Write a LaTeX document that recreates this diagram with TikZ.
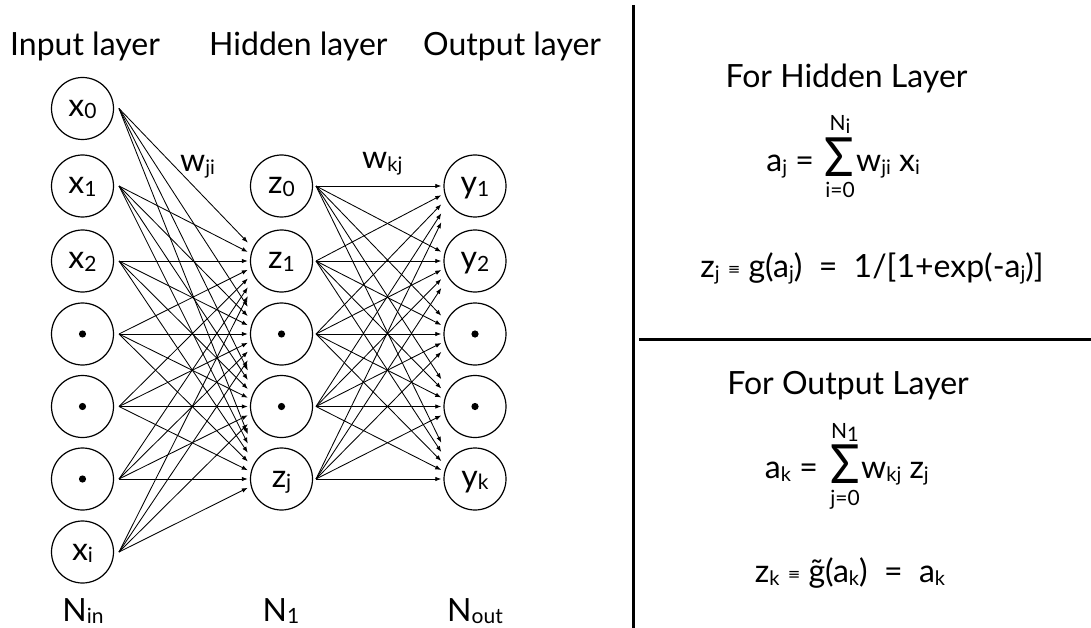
\documentclass[tikz,border=0pt]{standalone}
\usepackage{fontspec}
\setmainfont{Lato}
\newfontfamily\symfont{DejaVu Sans}
\usetikzlibrary{arrows.meta,calc}

% lowered subscripts in text mode
\newcommand\nsub[1]{\raisebox{-2.5pt}{\fontsize{21}{21}\selectfont #1}}
\newcommand\esub[1]{\raisebox{-3pt}{\fontsize{20}{20}\selectfont #1}}
\newcommand\eqv{\raisebox{2.5pt}{\symfont\fontsize{15}{15}\selectfont ≡}}
\newcommand\bigsum{{\fontsize{54}{54}\selectfont\scalebox{0.9}[1]{Σ}}}

\begin{document}
\begin{tikzpicture}[x=1pt,y=-1pt,
  neuron/.style={circle,draw,line width=1.2pt,minimum size=62pt,inner sep=0pt,
    text height=18pt,text depth=2pt,font=\fontsize{32}{33}\selectfont},
  dotneuron/.style={neuron,path picture={\fill (path picture bounding box.center) circle[radius=3.6pt];}},
  tgt/.style={rectangle,draw=none,minimum width=35pt,minimum height=200pt,inner sep=0pt},
  link/.style={line width=0.85pt,-{Latex[length=6pt,width=4.5pt]}},
  hdr/.style={font=\fontsize{32}{34}\selectfont,inner sep=0pt},
  eqn/.style={font=\fontsize{32}{33}\selectfont,inner sep=0pt},
  lim/.style={font=\fontsize{21}{22}\selectfont,inner sep=0pt,anchor=base},
  sumsign/.style={inner sep=0pt,anchor=base},
  rule/.style={line width=3pt}
]
\fill[white] (0,0) rectangle (1091,628);
\useasboundingbox (0,0) rectangle (1091,628);

% layer titles
\node[hdr,anchor=base west] (tin)  at (10,56)  {Input layer};
\node[hdr,anchor=base west] (thid) at (209,56) {Hidden layer};
\node[hdr,anchor=base west] (tout) at (423,56) {Output layer};

% input layer
\node[neuron]    (in0) at (82.5,108.5) {x\nsub{0}};
\node[neuron]    (in1) at (82.5,186)   {x\nsub{1}};
\node[neuron]    (in2) at (82.5,261)   {x\nsub{2}};
\node[dotneuron] (in3) at (82.5,334)   {};
\node[dotneuron] (in4) at (82.5,406.5) {};
\node[dotneuron] (in5) at (82.5,479)   {};
\node[neuron]    (in6) at (82.5,552)   {x\nsub{i}};

% hidden layer
\node[neuron]    (hd0) at (281.5,186)   {z\nsub{0}};
\node[neuron]    (hd1) at (281.5,261)   {z\nsub{1}};
\node[dotneuron] (hd2) at (281.5,334)   {};
\node[dotneuron] (hd3) at (281.5,406.5) {};
\node[neuron]    (hd4) at (281.5,479)   {z\nsub{j}};

% output layer
\node[neuron]    (ot0) at (475,186)   {y\nsub{1}};
\node[neuron]    (ot1) at (475,261)   {y\nsub{2}};
\node[dotneuron] (ot2) at (475,334)   {};
\node[dotneuron] (ot3) at (475,406.5) {};
\node[neuron]    (ot4) at (475,479)   {y\nsub{k}};

% fan-out points and arrow landing zones
\foreach \i in {0,...,6} \coordinate (inS\i) at ($(in\i.center)+(36.5,0)$);
\foreach \i in {0,...,4} {
  \coordinate (hdS\i) at ($(hd\i.center)+(34.5,0)$);
  \node[tgt] (otT\i) at ($(ot\i.center)+(-16,0)$) {};
}
\foreach \i in {1,...,4} \node[tgt] (hdT\i) at ($(hd\i.center)+(-16,0)$) {};

% weights
\foreach \s in {0,...,6} \foreach \t in {1,...,4} \draw[link] (inS\s) -- (hdT\t);
\foreach \s in {0,...,4} \foreach \t in {0,...,4} \draw[link] (hdS\s) -- (otT\t);

\node[eqn,anchor=base west] (wji) at (180,172) {w\esub{ji}};
\node[eqn,anchor=base west] (wkj) at (362,169) {w\esub{kj}};

% layer sizes
\node[hdr,anchor=base] (nin)  at (83,621)  {N\nsub{in}};
\node[hdr,anchor=base] (nhid) at (281,621) {N\nsub{1}};
\node[hdr,anchor=base] (nout) at (475,621) {N\nsub{out}};

% panel rules
\draw[rule] (633,5) -- (633,628);
\draw[rule] (639,339) -- (1091,339);

% hidden layer formulas
\node[hdr,anchor=base] (fh) at (846.5,88) {For Hidden Layer};
\node[eqn,anchor=base east] (aj) at (814,172) {a\esub{j} =};
\node[sumsign] (sum1) at (839,177) {\bigsum};
\node[lim] (ni) at (840,131) {N\esub{i}};
\node[lim] (i0) at (840,198) {i=0};
\node[eqn,anchor=base west] (wx) at (856,172) {w\esub{ji} x\esub{i}};
\node[eqn,anchor=base] (zj) at (872,277) {z\esub{j}\ \eqv\ g(a\esub{j})\ \ =\ \ 1/[1+exp(-a\esub{j})]};

% output layer formulas
\node[hdr,anchor=base] (fo) at (848,394) {For Output Layer};
\node[eqn,anchor=base east] (ak) at (818,478) {a\esub{k} =};
\node[sumsign] (sum2) at (845,483) {\bigsum};
\node[lim] (nl) at (845,438) {N\esub{1}};
\node[lim] (j0) at (845,505) {j=0};
\node[eqn,anchor=base west] (wz) at (861,478) {w\esub{kj} z\esub{j}};
\node[eqn,anchor=base] (zk) at (850,582) {z\esub{k}\ \eqv\ \~{g}(a\esub{k})\ \ =\ \ a\esub{k}};
\end{tikzpicture}
\end{document}
